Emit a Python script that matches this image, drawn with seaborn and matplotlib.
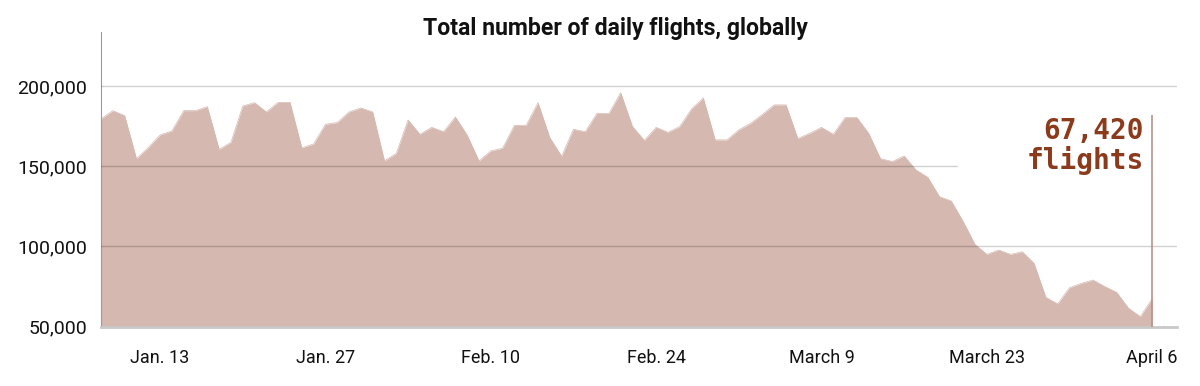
import pandas as pd
import seaborn as sns
import matplotlib
matplotlib.use("Agg")
import matplotlib.pyplot as plt

# ===== data =====
start_date = "2020-01-08"
flights = [
    179500, 184600, 181500, 154700, 161600, 169500, 172000, 184600, 184600, 187100,
    160500, 164900, 187500, 189600, 183800, 189800, 189800, 161400, 163900, 176100,
    177200, 183800, 186300, 183800, 153300, 158000, 178800, 169900, 174200, 171500,
    180700, 169400, 153300, 159500, 161200, 175500, 175500, 189600, 167800, 156200,
    173000, 171500, 183000, 182800, 195800, 174700, 166100, 174200, 171100, 174700,
    185700, 192500, 166400, 166400, 172600, 176700, 182300, 188200, 188200, 167200,
    170500, 174200, 169900, 180300, 180300, 170500, 154700, 152900, 156400, 147700,
    143100, 131000, 128300, 115500, 101300, 95100, 97800, 95100, 96700, 89500,
    68300, 64200, 74300, 77000, 79100, 75000, 71400, 61500, 56300, 67420,
]
tick_dates = ["2020-01-13", "2020-01-27", "2020-02-10", "2020-02-24",
              "2020-03-09", "2020-03-23", "2020-04-06"]
tick_labels = ["Jan. 13", "Jan. 27", "Feb. 10", "Feb. 24",
               "March 9", "March 23", "April 6"]
y_ticks = [50000, 100000, 150000, 200000]
title = "Total number of daily flights, globally"
callout = "67,420\nflights"

df = pd.DataFrame({
    "date": pd.date_range(start_date, periods=len(flights), freq="D"),
    "flights": flights,
})

sns.set_theme(style="white")
plt.rcParams["font.family"] = ["Roboto", "DejaVu Sans"]

fill_color = "#d5b8b0"
grid_color = "#000000"
accent = "#8c3a1c"

fig = plt.figure(figsize=(12, 3.86), dpi=100)
ax = fig.add_axes([0.0842, 0.1536, 0.8966, 0.7634])

# area under the daily series
ax.fill_between(df["date"], df["flights"], 50000, color=fill_color, lw=0, zorder=1)
sns.lineplot(data=df, x="date", y="flights", ax=ax, color=fill_color, lw=0.5, zorder=2)

last_date = df["date"].iloc[-1]
xmin = df["date"].iloc[0]
xmax = last_date + pd.Timedelta(days=2.1)
ax.set_xlim(xmin, xmax)
ax.set_ylim(50000, 233600)

# grid lines (the 150k line is cut short behind the callout)
cut = (pd.Timestamp("2020-03-20 12:00") - xmin) / (xmax - xmin)
for v in y_ticks[1:]:
    ax.axhline(v, xmin=0, xmax=cut if v == 150000 else 1,
               color=grid_color, alpha=0.18, lw=1, zorder=3)

# callout line and label
ax.vlines(last_date, 50000, 181900, color="#b8918a", lw=1.2, zorder=4)
ax.text(last_date - pd.Timedelta(days=0.7), 180500, callout,
        ha="right", va="top", fontsize=20, fontweight="bold",
        family=["DejaVu Sans Mono"], color=accent, linespacing=1.05, zorder=5)

ax.set_xticks(pd.to_datetime(tick_dates))
ax.set_xticklabels(tick_labels)
ax.set_yticks(y_ticks)
ax.set_yticklabels([f"{v:,}" for v in y_ticks])
ax.tick_params(axis="x", length=0, labelsize=13, colors="#111111", pad=16)
ax.tick_params(axis="y", length=0, labelsize=14, colors="#111111", pad=10)
ax.set_xlabel("")
ax.set_ylabel("")

for s in ["top", "right"]:
    ax.spines[s].set_visible(False)
ax.spines["left"].set_color("#9a9a9a")
ax.spines["left"].set_linewidth(0.8)
ax.spines["bottom"].set_color("#c8c8c8")
ax.spines["bottom"].set_linewidth(2)

fig.text(0.5125, 0.925, title, ha="center", va="center",
         fontsize=16.6, fontweight="bold", color="#111111")

fig.savefig("out.png", dpi=100)
